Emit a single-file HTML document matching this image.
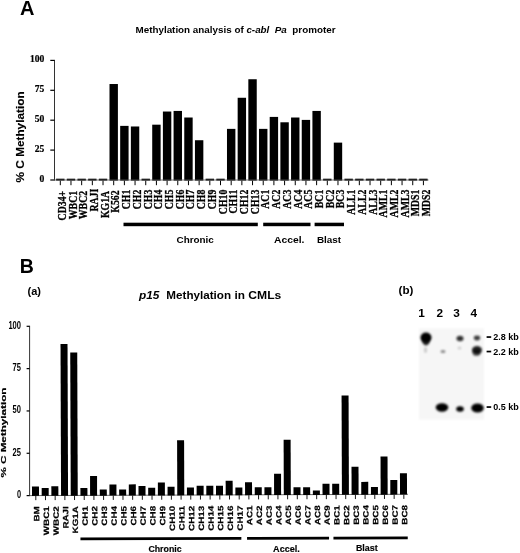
<!DOCTYPE html>
<html><head><meta charset="utf-8"><title>Methylation analysis</title>
<style>
html,body{margin:0;padding:0;background:#fff;}
body{width:520px;height:553px;overflow:hidden;}
svg{display:block;}
.sans{font-family:"Liberation Sans",Arial,Helvetica,sans-serif;font-weight:bold;fill:#000;}
.serif{font-family:"Liberation Serif","Times New Roman",serif;font-weight:bold;fill:#000;}
</style></head><body>
<svg width="520" height="553" viewBox="0 0 520 553">
<defs>
<filter id="b1" x="-50%" y="-50%" width="200%" height="200%"><feGaussianBlur stdDeviation="1.3"/></filter>
<filter id="b2" x="-50%" y="-50%" width="200%" height="200%"><feGaussianBlur stdDeviation="0.9"/></filter>
</defs>
<rect width="520" height="553" fill="#fff"/>

<text class="sans" x="20" y="14.5" font-size="20">A</text>
<text class="sans" x="135.5" y="33" font-size="9.6" textLength="200" lengthAdjust="spacingAndGlyphs" xml:space="preserve">Methylation analysis of <tspan font-style="italic">c-abl  Pa</tspan>  promoter</text>
<line x1="54.5" y1="59.9" x2="54.5" y2="180.5" stroke="#333" stroke-width="1"/>
<line x1="50.3" y1="180" x2="54.5" y2="180" stroke="#000" stroke-width="1.2"/>
<text class="serif" x="44.3" y="181.6" font-size="9.6" text-anchor="end" stroke="#000" stroke-width="0.2">0</text>
<line x1="50.3" y1="150.1" x2="54.5" y2="150.1" stroke="#000" stroke-width="1.2"/>
<text class="serif" x="44.3" y="151.7" font-size="9.6" text-anchor="end" stroke="#000" stroke-width="0.2">25</text>
<line x1="50.3" y1="120.2" x2="54.5" y2="120.2" stroke="#000" stroke-width="1.2"/>
<text class="serif" x="44.3" y="121.8" font-size="9.6" text-anchor="end" stroke="#000" stroke-width="0.2">50</text>
<line x1="50.3" y1="90.3" x2="54.5" y2="90.3" stroke="#000" stroke-width="1.2"/>
<text class="serif" x="44.3" y="91.9" font-size="9.6" text-anchor="end" stroke="#000" stroke-width="0.2">75</text>
<line x1="50.3" y1="60.4" x2="54.5" y2="60.4" stroke="#000" stroke-width="1.2"/>
<text class="serif" x="44.3" y="62" font-size="9.6" text-anchor="end" stroke="#000" stroke-width="0.2">100</text>
<text class="sans" font-size="11.5" text-anchor="middle" stroke="#000" stroke-width="0.15" transform="translate(23.8,136.9) rotate(-90)" textLength="91" lengthAdjust="spacingAndGlyphs">% C Methylation</text>
<rect x="56.10" y="178.70" width="8.40" height="1.90" fill="#000"/>
<line x1="60.30" y1="180.5" x2="60.30" y2="185.2" stroke="#000" stroke-width="1"/>
<text class="serif" font-size="11.8" text-anchor="end" stroke="#000" stroke-width="0.3" transform="translate(65.90,190.90) rotate(-90) scale(0.83,1)">CD34+</text>
<rect x="66.78" y="178.70" width="8.40" height="1.90" fill="#000"/>
<line x1="70.98" y1="180.5" x2="70.98" y2="185.2" stroke="#000" stroke-width="1"/>
<text class="serif" font-size="11.8" text-anchor="end" stroke="#000" stroke-width="0.3" transform="translate(76.61,190.90) rotate(-90) scale(0.83,1)">WBC1</text>
<rect x="77.46" y="178.70" width="8.40" height="1.90" fill="#000"/>
<line x1="81.66" y1="180.5" x2="81.66" y2="185.2" stroke="#000" stroke-width="1"/>
<text class="serif" font-size="11.8" text-anchor="end" stroke="#000" stroke-width="0.3" transform="translate(87.33,190.90) rotate(-90) scale(0.83,1)">WBC2</text>
<rect x="88.14" y="178.70" width="8.40" height="1.90" fill="#000"/>
<line x1="92.34" y1="180.5" x2="92.34" y2="185.2" stroke="#000" stroke-width="1"/>
<text class="serif" font-size="11.8" text-anchor="end" stroke="#000" stroke-width="0.3" transform="translate(98.04,188.70) rotate(-90) scale(0.83,1)">RAJI</text>
<rect x="98.82" y="178.70" width="8.40" height="1.90" fill="#000"/>
<line x1="103.02" y1="180.5" x2="103.02" y2="185.2" stroke="#000" stroke-width="1"/>
<text class="serif" font-size="11.8" text-anchor="end" stroke="#000" stroke-width="0.3" transform="translate(108.75,190.90) rotate(-90) scale(0.83,1)">KG1A</text>
<rect x="109.50" y="84.02" width="8.40" height="96.58" fill="#000"/>
<line x1="113.70" y1="180.5" x2="113.70" y2="185.2" stroke="#000" stroke-width="1"/>
<text class="serif" font-size="11.8" text-anchor="end" stroke="#000" stroke-width="0.3" transform="translate(119.47,190.40) rotate(-90) scale(0.83,1)">K562</text>
<rect x="120.18" y="125.88" width="8.40" height="54.72" fill="#000"/>
<line x1="124.38" y1="180.5" x2="124.38" y2="185.2" stroke="#000" stroke-width="1"/>
<text class="serif" font-size="11.8" text-anchor="end" stroke="#000" stroke-width="0.3" transform="translate(130.18,189.70) rotate(-90) scale(0.83,1)">CH1</text>
<rect x="130.86" y="126.48" width="8.40" height="54.12" fill="#000"/>
<line x1="135.06" y1="180.5" x2="135.06" y2="185.2" stroke="#000" stroke-width="1"/>
<text class="serif" font-size="11.8" text-anchor="end" stroke="#000" stroke-width="0.3" transform="translate(140.89,189.70) rotate(-90) scale(0.83,1)">CH2</text>
<rect x="141.54" y="178.70" width="8.40" height="1.90" fill="#000"/>
<line x1="145.74" y1="180.5" x2="145.74" y2="185.2" stroke="#000" stroke-width="1"/>
<text class="serif" font-size="11.8" text-anchor="end" stroke="#000" stroke-width="0.3" transform="translate(151.60,189.70) rotate(-90) scale(0.83,1)">CH3</text>
<rect x="152.22" y="124.68" width="8.40" height="55.92" fill="#000"/>
<line x1="156.42" y1="180.5" x2="156.42" y2="185.2" stroke="#000" stroke-width="1"/>
<text class="serif" font-size="11.8" text-anchor="end" stroke="#000" stroke-width="0.3" transform="translate(162.32,189.70) rotate(-90) scale(0.83,1)">CH4</text>
<rect x="162.90" y="111.53" width="8.40" height="69.07" fill="#000"/>
<line x1="167.10" y1="180.5" x2="167.10" y2="185.2" stroke="#000" stroke-width="1"/>
<text class="serif" font-size="11.8" text-anchor="end" stroke="#000" stroke-width="0.3" transform="translate(173.03,189.70) rotate(-90) scale(0.83,1)">CH5</text>
<rect x="173.58" y="110.93" width="8.40" height="69.67" fill="#000"/>
<line x1="177.78" y1="180.5" x2="177.78" y2="185.2" stroke="#000" stroke-width="1"/>
<text class="serif" font-size="11.8" text-anchor="end" stroke="#000" stroke-width="0.3" transform="translate(183.74,189.70) rotate(-90) scale(0.83,1)">CH6</text>
<rect x="184.26" y="117.51" width="8.40" height="63.09" fill="#000"/>
<line x1="188.46" y1="180.5" x2="188.46" y2="185.2" stroke="#000" stroke-width="1"/>
<text class="serif" font-size="11.8" text-anchor="end" stroke="#000" stroke-width="0.3" transform="translate(194.46,189.70) rotate(-90) scale(0.83,1)">CH7</text>
<rect x="194.94" y="140.23" width="8.40" height="40.37" fill="#000"/>
<line x1="199.14" y1="180.5" x2="199.14" y2="185.2" stroke="#000" stroke-width="1"/>
<text class="serif" font-size="11.8" text-anchor="end" stroke="#000" stroke-width="0.3" transform="translate(205.17,189.70) rotate(-90) scale(0.83,1)">CH8</text>
<rect x="205.62" y="178.70" width="8.40" height="1.90" fill="#000"/>
<line x1="209.82" y1="180.5" x2="209.82" y2="185.2" stroke="#000" stroke-width="1"/>
<text class="serif" font-size="11.8" text-anchor="end" stroke="#000" stroke-width="0.3" transform="translate(215.88,189.70) rotate(-90) scale(0.83,1)">CH9</text>
<rect x="216.30" y="178.70" width="8.40" height="1.90" fill="#000"/>
<line x1="220.50" y1="180.5" x2="220.50" y2="185.2" stroke="#000" stroke-width="1"/>
<text class="serif" font-size="11.8" text-anchor="end" stroke="#000" stroke-width="0.3" transform="translate(226.59,189.70) rotate(-90) scale(0.83,1)">CH10</text>
<rect x="226.98" y="128.87" width="8.40" height="51.73" fill="#000"/>
<line x1="231.18" y1="180.5" x2="231.18" y2="185.2" stroke="#000" stroke-width="1"/>
<text class="serif" font-size="11.8" text-anchor="end" stroke="#000" stroke-width="0.3" transform="translate(237.31,189.70) rotate(-90) scale(0.83,1)">CH11</text>
<rect x="237.66" y="97.77" width="8.40" height="82.83" fill="#000"/>
<line x1="241.86" y1="180.5" x2="241.86" y2="185.2" stroke="#000" stroke-width="1"/>
<text class="serif" font-size="11.8" text-anchor="end" stroke="#000" stroke-width="0.3" transform="translate(248.02,189.70) rotate(-90) scale(0.83,1)">CH12</text>
<rect x="248.34" y="79.24" width="8.40" height="101.36" fill="#000"/>
<line x1="252.54" y1="180.5" x2="252.54" y2="185.2" stroke="#000" stroke-width="1"/>
<text class="serif" font-size="11.8" text-anchor="end" stroke="#000" stroke-width="0.3" transform="translate(258.73,189.70) rotate(-90) scale(0.83,1)">CH13</text>
<rect x="259.02" y="128.87" width="8.40" height="51.73" fill="#000"/>
<line x1="263.22" y1="180.5" x2="263.22" y2="185.2" stroke="#000" stroke-width="1"/>
<text class="serif" font-size="11.8" text-anchor="end" stroke="#000" stroke-width="0.3" transform="translate(269.45,189.70) rotate(-90) scale(0.83,1)">AC1</text>
<rect x="269.70" y="116.91" width="8.40" height="63.69" fill="#000"/>
<line x1="273.90" y1="180.5" x2="273.90" y2="185.2" stroke="#000" stroke-width="1"/>
<text class="serif" font-size="11.8" text-anchor="end" stroke="#000" stroke-width="0.3" transform="translate(280.16,189.70) rotate(-90) scale(0.83,1)">AC2</text>
<rect x="280.38" y="122.29" width="8.40" height="58.31" fill="#000"/>
<line x1="284.58" y1="180.5" x2="284.58" y2="185.2" stroke="#000" stroke-width="1"/>
<text class="serif" font-size="11.8" text-anchor="end" stroke="#000" stroke-width="0.3" transform="translate(290.87,189.70) rotate(-90) scale(0.83,1)">AC3</text>
<rect x="291.06" y="117.51" width="8.40" height="63.09" fill="#000"/>
<line x1="295.26" y1="180.5" x2="295.26" y2="185.2" stroke="#000" stroke-width="1"/>
<text class="serif" font-size="11.8" text-anchor="end" stroke="#000" stroke-width="0.3" transform="translate(301.59,189.70) rotate(-90) scale(0.83,1)">AC4</text>
<rect x="301.74" y="119.90" width="8.40" height="60.70" fill="#000"/>
<line x1="305.94" y1="180.5" x2="305.94" y2="185.2" stroke="#000" stroke-width="1"/>
<text class="serif" font-size="11.8" text-anchor="end" stroke="#000" stroke-width="0.3" transform="translate(312.30,189.70) rotate(-90) scale(0.83,1)">AC5</text>
<rect x="312.42" y="110.93" width="8.40" height="69.67" fill="#000"/>
<line x1="316.62" y1="180.5" x2="316.62" y2="185.2" stroke="#000" stroke-width="1"/>
<text class="serif" font-size="11.8" text-anchor="end" stroke="#000" stroke-width="0.3" transform="translate(323.01,189.70) rotate(-90) scale(0.83,1)">BC1</text>
<rect x="323.10" y="178.70" width="8.40" height="1.90" fill="#000"/>
<line x1="327.30" y1="180.5" x2="327.30" y2="185.2" stroke="#000" stroke-width="1"/>
<text class="serif" font-size="11.8" text-anchor="end" stroke="#000" stroke-width="0.3" transform="translate(333.73,189.70) rotate(-90) scale(0.83,1)">BC2</text>
<rect x="333.78" y="142.62" width="8.40" height="37.98" fill="#000"/>
<line x1="337.98" y1="180.5" x2="337.98" y2="185.2" stroke="#000" stroke-width="1"/>
<text class="serif" font-size="11.8" text-anchor="end" stroke="#000" stroke-width="0.3" transform="translate(344.44,189.70) rotate(-90) scale(0.83,1)">BC3</text>
<rect x="344.46" y="178.70" width="8.40" height="1.90" fill="#000"/>
<line x1="348.66" y1="180.5" x2="348.66" y2="185.2" stroke="#000" stroke-width="1"/>
<text class="serif" font-size="11.8" text-anchor="end" stroke="#000" stroke-width="0.3" transform="translate(355.15,189.70) rotate(-90) scale(0.83,1)">ALL1</text>
<rect x="355.14" y="178.70" width="8.40" height="1.90" fill="#000"/>
<line x1="359.34" y1="180.5" x2="359.34" y2="185.2" stroke="#000" stroke-width="1"/>
<text class="serif" font-size="11.8" text-anchor="end" stroke="#000" stroke-width="0.3" transform="translate(365.86,189.70) rotate(-90) scale(0.83,1)">ALL2</text>
<rect x="365.82" y="178.70" width="8.40" height="1.90" fill="#000"/>
<line x1="370.02" y1="180.5" x2="370.02" y2="185.2" stroke="#000" stroke-width="1"/>
<text class="serif" font-size="11.8" text-anchor="end" stroke="#000" stroke-width="0.3" transform="translate(376.58,189.70) rotate(-90) scale(0.83,1)">ALL3</text>
<rect x="376.50" y="178.70" width="8.40" height="1.90" fill="#000"/>
<line x1="380.70" y1="180.5" x2="380.70" y2="185.2" stroke="#000" stroke-width="1"/>
<text class="serif" font-size="11.8" text-anchor="end" stroke="#000" stroke-width="0.3" transform="translate(387.29,189.70) rotate(-90) scale(0.83,1)">AML1</text>
<rect x="387.18" y="178.70" width="8.40" height="1.90" fill="#000"/>
<line x1="391.38" y1="180.5" x2="391.38" y2="185.2" stroke="#000" stroke-width="1"/>
<text class="serif" font-size="11.8" text-anchor="end" stroke="#000" stroke-width="0.3" transform="translate(398.00,189.70) rotate(-90) scale(0.83,1)">AML2</text>
<rect x="397.86" y="178.70" width="8.40" height="1.90" fill="#000"/>
<line x1="402.06" y1="180.5" x2="402.06" y2="185.2" stroke="#000" stroke-width="1"/>
<text class="serif" font-size="11.8" text-anchor="end" stroke="#000" stroke-width="0.3" transform="translate(408.72,189.70) rotate(-90) scale(0.83,1)">AML3</text>
<rect x="408.54" y="178.70" width="8.40" height="1.90" fill="#000"/>
<line x1="412.74" y1="180.5" x2="412.74" y2="185.2" stroke="#000" stroke-width="1"/>
<text class="serif" font-size="11.8" text-anchor="end" stroke="#000" stroke-width="0.3" transform="translate(419.43,189.70) rotate(-90) scale(0.83,1)">MDS1</text>
<rect x="419.22" y="178.70" width="8.40" height="1.90" fill="#000"/>
<line x1="423.42" y1="180.5" x2="423.42" y2="185.2" stroke="#000" stroke-width="1"/>
<text class="serif" font-size="11.8" text-anchor="end" stroke="#000" stroke-width="0.3" transform="translate(430.14,189.70) rotate(-90) scale(0.83,1)">MDS2</text>
<line x1="54" y1="180" x2="428.5" y2="180" stroke="#555" stroke-width="0.8"/>
<rect x="123.5" y="222.7" width="134.3" height="3.5" fill="#000"/>
<rect x="263.2" y="222.7" width="47.3" height="3.5" fill="#000"/>
<rect x="314.6" y="222.7" width="29.4" height="3.5" fill="#000"/>
<text class="sans" font-size="9.9" text-anchor="middle" x="195.2" y="243">Chronic</text>
<text class="sans" font-size="9.9" x="274" y="242.5" textLength="30.4" lengthAdjust="spacingAndGlyphs">Accel.</text>
<text class="sans" font-size="9.9" text-anchor="middle" x="329" y="242.5">Blast</text>
<text class="sans" x="19.8" y="272.8" font-size="19.5">B</text>
<text class="sans" x="27.5" y="295" font-size="11">(a)</text>
<text class="sans" y="298.6" font-size="11.8"><tspan x="139" font-style="italic">p15</tspan> <tspan x="166.3" textLength="64.8" lengthAdjust="spacingAndGlyphs">Methylation</tspan> <tspan x="234.4">in</tspan> <tspan x="248.3" textLength="33" lengthAdjust="spacingAndGlyphs">CMLs</tspan></text>
<line x1="29.6" y1="325.8" x2="29.6" y2="496.1" stroke="#333" stroke-width="1"/>
<line x1="26.6" y1="495.6" x2="29.6" y2="495.6" stroke="#000" stroke-width="1.2"/>
<text class="sans" x="21" y="498" font-size="10.3" text-anchor="end" textLength="4.1" lengthAdjust="spacingAndGlyphs">0</text>
<line x1="26.6" y1="453.275" x2="29.6" y2="453.275" stroke="#000" stroke-width="1.2"/>
<text class="sans" x="21" y="455.675" font-size="10.3" text-anchor="end" textLength="8.4" lengthAdjust="spacingAndGlyphs">25</text>
<line x1="26.6" y1="410.95" x2="29.6" y2="410.95" stroke="#000" stroke-width="1.2"/>
<text class="sans" x="21" y="413.35" font-size="10.3" text-anchor="end" textLength="8.4" lengthAdjust="spacingAndGlyphs">50</text>
<line x1="26.6" y1="368.625" x2="29.6" y2="368.625" stroke="#000" stroke-width="1.2"/>
<text class="sans" x="21" y="371.025" font-size="10.3" text-anchor="end" textLength="8.4" lengthAdjust="spacingAndGlyphs">75</text>
<line x1="26.6" y1="326.3" x2="29.6" y2="326.3" stroke="#000" stroke-width="1.2"/>
<text class="sans" x="21" y="328.7" font-size="10.3" text-anchor="end" textLength="12.6" lengthAdjust="spacingAndGlyphs">100</text>
<text class="sans" font-size="8" text-anchor="middle" stroke="#000" stroke-width="0.2" transform="translate(5.7,432.6) rotate(-90)" textLength="90" lengthAdjust="spacingAndGlyphs">% C Methylation</text>
<g transform="rotate(-0.2 30 495.6)">
<line x1="29.6" y1="495.6" x2="408" y2="495.6" stroke="#444" stroke-width="0.8"/>
<rect x="32.00" y="486.44" width="7.00" height="9.46" fill="#000"/>
<line x1="35.80" y1="495.9" x2="35.80" y2="500.2" stroke="#000" stroke-width="0.9"/>
<text class="sans" font-size="7.7" text-anchor="end" stroke="#000" stroke-width="0.2" transform="translate(39.20,506.3) rotate(-90) scale(1.28,1)">BM</text>
<rect x="41.69" y="488.13" width="7.00" height="7.77" fill="#000"/>
<line x1="45.48" y1="495.9" x2="45.48" y2="500.2" stroke="#000" stroke-width="0.9"/>
<text class="sans" font-size="7.7" text-anchor="end" stroke="#000" stroke-width="0.2" transform="translate(48.89,506.3) rotate(-90) scale(1.28,1)">WBC1</text>
<rect x="51.37" y="486.44" width="7.00" height="9.46" fill="#000"/>
<line x1="55.17" y1="495.9" x2="55.17" y2="500.2" stroke="#000" stroke-width="0.9"/>
<text class="sans" font-size="7.7" text-anchor="end" stroke="#000" stroke-width="0.2" transform="translate(58.57,506.3) rotate(-90) scale(1.28,1)">WBC2</text>
<rect x="61.05" y="344.22" width="7.00" height="151.68" fill="#000"/>
<line x1="64.86" y1="495.9" x2="64.86" y2="500.2" stroke="#000" stroke-width="0.9"/>
<text class="sans" font-size="7.7" text-anchor="end" stroke="#000" stroke-width="0.2" transform="translate(68.26,506.3) rotate(-90) scale(1.28,1)">RAJI</text>
<rect x="70.74" y="352.69" width="7.00" height="143.21" fill="#000"/>
<line x1="74.54" y1="495.9" x2="74.54" y2="500.2" stroke="#000" stroke-width="0.9"/>
<text class="sans" font-size="7.7" text-anchor="end" stroke="#000" stroke-width="0.2" transform="translate(77.94,506.3) rotate(-90) scale(1.28,1)">KG1A</text>
<rect x="80.43" y="488.13" width="7.00" height="7.77" fill="#000"/>
<line x1="84.23" y1="495.9" x2="84.23" y2="500.2" stroke="#000" stroke-width="0.9"/>
<text class="sans" font-size="7.7" text-anchor="end" stroke="#000" stroke-width="0.2" transform="translate(87.63,506.3) rotate(-90) scale(1.28,1)">CH1</text>
<rect x="90.11" y="476.28" width="7.00" height="19.62" fill="#000"/>
<line x1="93.91" y1="495.9" x2="93.91" y2="500.2" stroke="#000" stroke-width="0.9"/>
<text class="sans" font-size="7.7" text-anchor="end" stroke="#000" stroke-width="0.2" transform="translate(97.31,506.3) rotate(-90) scale(1.28,1)">CH2</text>
<rect x="99.80" y="489.82" width="7.00" height="6.08" fill="#000"/>
<line x1="103.59" y1="495.9" x2="103.59" y2="500.2" stroke="#000" stroke-width="0.9"/>
<text class="sans" font-size="7.7" text-anchor="end" stroke="#000" stroke-width="0.2" transform="translate(107.00,506.3) rotate(-90) scale(1.28,1)">CH3</text>
<rect x="109.48" y="484.74" width="7.00" height="11.16" fill="#000"/>
<line x1="113.28" y1="495.9" x2="113.28" y2="500.2" stroke="#000" stroke-width="0.9"/>
<text class="sans" font-size="7.7" text-anchor="end" stroke="#000" stroke-width="0.2" transform="translate(116.68,506.3) rotate(-90) scale(1.28,1)">CH4</text>
<rect x="119.17" y="489.82" width="7.00" height="6.08" fill="#000"/>
<line x1="122.97" y1="495.9" x2="122.97" y2="500.2" stroke="#000" stroke-width="0.9"/>
<text class="sans" font-size="7.7" text-anchor="end" stroke="#000" stroke-width="0.2" transform="translate(126.37,506.3) rotate(-90) scale(1.28,1)">CH5</text>
<rect x="128.85" y="484.74" width="7.00" height="11.16" fill="#000"/>
<line x1="132.65" y1="495.9" x2="132.65" y2="500.2" stroke="#000" stroke-width="0.9"/>
<text class="sans" font-size="7.7" text-anchor="end" stroke="#000" stroke-width="0.2" transform="translate(136.05,506.3) rotate(-90) scale(1.28,1)">CH6</text>
<rect x="138.54" y="486.44" width="7.00" height="9.46" fill="#000"/>
<line x1="142.34" y1="495.9" x2="142.34" y2="500.2" stroke="#000" stroke-width="0.9"/>
<text class="sans" font-size="7.7" text-anchor="end" stroke="#000" stroke-width="0.2" transform="translate(145.74,506.3) rotate(-90) scale(1.28,1)">CH7</text>
<rect x="148.22" y="488.13" width="7.00" height="7.77" fill="#000"/>
<line x1="152.02" y1="495.9" x2="152.02" y2="500.2" stroke="#000" stroke-width="0.9"/>
<text class="sans" font-size="7.7" text-anchor="end" stroke="#000" stroke-width="0.2" transform="translate(155.42,506.3) rotate(-90) scale(1.28,1)">CH8</text>
<rect x="157.91" y="483.05" width="7.00" height="12.85" fill="#000"/>
<line x1="161.71" y1="495.9" x2="161.71" y2="500.2" stroke="#000" stroke-width="0.9"/>
<text class="sans" font-size="7.7" text-anchor="end" stroke="#000" stroke-width="0.2" transform="translate(165.10,506.3) rotate(-90) scale(1.28,1)">CH9</text>
<rect x="167.59" y="487.28" width="7.00" height="8.62" fill="#000"/>
<line x1="171.39" y1="495.9" x2="171.39" y2="500.2" stroke="#000" stroke-width="0.9"/>
<text class="sans" font-size="7.7" text-anchor="end" stroke="#000" stroke-width="0.2" transform="translate(174.79,506.3) rotate(-90) scale(1.28,1)">CH10</text>
<rect x="177.28" y="440.72" width="7.00" height="55.18" fill="#000"/>
<line x1="181.08" y1="495.9" x2="181.08" y2="500.2" stroke="#000" stroke-width="0.9"/>
<text class="sans" font-size="7.7" text-anchor="end" stroke="#000" stroke-width="0.2" transform="translate(184.47,506.3) rotate(-90) scale(1.28,1)">CH11</text>
<rect x="186.96" y="488.13" width="7.00" height="7.77" fill="#000"/>
<line x1="190.76" y1="495.9" x2="190.76" y2="500.2" stroke="#000" stroke-width="0.9"/>
<text class="sans" font-size="7.7" text-anchor="end" stroke="#000" stroke-width="0.2" transform="translate(194.16,506.3) rotate(-90) scale(1.28,1)">CH12</text>
<rect x="196.65" y="486.44" width="7.00" height="9.46" fill="#000"/>
<line x1="200.45" y1="495.9" x2="200.45" y2="500.2" stroke="#000" stroke-width="0.9"/>
<text class="sans" font-size="7.7" text-anchor="end" stroke="#000" stroke-width="0.2" transform="translate(203.84,506.3) rotate(-90) scale(1.28,1)">CH13</text>
<rect x="206.33" y="486.44" width="7.00" height="9.46" fill="#000"/>
<line x1="210.13" y1="495.9" x2="210.13" y2="500.2" stroke="#000" stroke-width="0.9"/>
<text class="sans" font-size="7.7" text-anchor="end" stroke="#000" stroke-width="0.2" transform="translate(213.53,506.3) rotate(-90) scale(1.28,1)">CH14</text>
<rect x="216.02" y="486.44" width="7.00" height="9.46" fill="#000"/>
<line x1="219.82" y1="495.9" x2="219.82" y2="500.2" stroke="#000" stroke-width="0.9"/>
<text class="sans" font-size="7.7" text-anchor="end" stroke="#000" stroke-width="0.2" transform="translate(223.22,506.3) rotate(-90) scale(1.28,1)">CH15</text>
<rect x="225.70" y="481.36" width="7.00" height="14.54" fill="#000"/>
<line x1="229.50" y1="495.9" x2="229.50" y2="500.2" stroke="#000" stroke-width="0.9"/>
<text class="sans" font-size="7.7" text-anchor="end" stroke="#000" stroke-width="0.2" transform="translate(232.90,506.3) rotate(-90) scale(1.28,1)">CH16</text>
<rect x="235.39" y="488.13" width="7.00" height="7.77" fill="#000"/>
<line x1="239.19" y1="495.9" x2="239.19" y2="500.2" stroke="#000" stroke-width="0.9"/>
<text class="sans" font-size="7.7" text-anchor="end" stroke="#000" stroke-width="0.2" transform="translate(242.59,506.3) rotate(-90) scale(1.28,1)">CH17</text>
<rect x="245.07" y="483.05" width="7.00" height="12.85" fill="#000"/>
<line x1="248.87" y1="495.9" x2="248.87" y2="500.2" stroke="#000" stroke-width="0.9"/>
<text class="sans" font-size="7.7" text-anchor="end" stroke="#000" stroke-width="0.2" transform="translate(252.27,506.3) rotate(-90) scale(1.28,1)">AC1</text>
<rect x="254.76" y="488.13" width="7.00" height="7.77" fill="#000"/>
<line x1="258.56" y1="495.9" x2="258.56" y2="500.2" stroke="#000" stroke-width="0.9"/>
<text class="sans" font-size="7.7" text-anchor="end" stroke="#000" stroke-width="0.2" transform="translate(261.95,506.3) rotate(-90) scale(1.28,1)">AC2</text>
<rect x="264.44" y="488.13" width="7.00" height="7.77" fill="#000"/>
<line x1="268.24" y1="495.9" x2="268.24" y2="500.2" stroke="#000" stroke-width="0.9"/>
<text class="sans" font-size="7.7" text-anchor="end" stroke="#000" stroke-width="0.2" transform="translate(271.64,506.3) rotate(-90) scale(1.28,1)">AC3</text>
<rect x="274.12" y="474.58" width="7.00" height="21.32" fill="#000"/>
<line x1="277.93" y1="495.9" x2="277.93" y2="500.2" stroke="#000" stroke-width="0.9"/>
<text class="sans" font-size="7.7" text-anchor="end" stroke="#000" stroke-width="0.2" transform="translate(281.32,506.3) rotate(-90) scale(1.28,1)">AC4</text>
<rect x="283.81" y="440.72" width="7.00" height="55.18" fill="#000"/>
<line x1="287.61" y1="495.9" x2="287.61" y2="500.2" stroke="#000" stroke-width="0.9"/>
<text class="sans" font-size="7.7" text-anchor="end" stroke="#000" stroke-width="0.2" transform="translate(291.01,506.3) rotate(-90) scale(1.28,1)">AC5</text>
<rect x="293.50" y="488.13" width="7.00" height="7.77" fill="#000"/>
<line x1="297.30" y1="495.9" x2="297.30" y2="500.2" stroke="#000" stroke-width="0.9"/>
<text class="sans" font-size="7.7" text-anchor="end" stroke="#000" stroke-width="0.2" transform="translate(300.69,506.3) rotate(-90) scale(1.28,1)">AC6</text>
<rect x="303.18" y="488.13" width="7.00" height="7.77" fill="#000"/>
<line x1="306.98" y1="495.9" x2="306.98" y2="500.2" stroke="#000" stroke-width="0.9"/>
<text class="sans" font-size="7.7" text-anchor="end" stroke="#000" stroke-width="0.2" transform="translate(310.38,506.3) rotate(-90) scale(1.28,1)">AC7</text>
<rect x="312.87" y="491.51" width="7.00" height="4.39" fill="#000"/>
<line x1="316.67" y1="495.9" x2="316.67" y2="500.2" stroke="#000" stroke-width="0.9"/>
<text class="sans" font-size="7.7" text-anchor="end" stroke="#000" stroke-width="0.2" transform="translate(320.06,506.3) rotate(-90) scale(1.28,1)">AC8</text>
<rect x="322.55" y="484.74" width="7.00" height="11.16" fill="#000"/>
<line x1="326.35" y1="495.9" x2="326.35" y2="500.2" stroke="#000" stroke-width="0.9"/>
<text class="sans" font-size="7.7" text-anchor="end" stroke="#000" stroke-width="0.2" transform="translate(329.75,506.3) rotate(-90) scale(1.28,1)">AC9</text>
<rect x="332.24" y="484.74" width="7.00" height="11.16" fill="#000"/>
<line x1="336.04" y1="495.9" x2="336.04" y2="500.2" stroke="#000" stroke-width="0.9"/>
<text class="sans" font-size="7.7" text-anchor="end" stroke="#000" stroke-width="0.2" transform="translate(339.44,506.3) rotate(-90) scale(1.28,1)">BC1</text>
<rect x="341.92" y="396.71" width="7.00" height="99.19" fill="#000"/>
<line x1="345.72" y1="495.9" x2="345.72" y2="500.2" stroke="#000" stroke-width="0.9"/>
<text class="sans" font-size="7.7" text-anchor="end" stroke="#000" stroke-width="0.2" transform="translate(349.12,506.3) rotate(-90) scale(1.28,1)">BC2</text>
<rect x="351.61" y="467.81" width="7.00" height="28.09" fill="#000"/>
<line x1="355.41" y1="495.9" x2="355.41" y2="500.2" stroke="#000" stroke-width="0.9"/>
<text class="sans" font-size="7.7" text-anchor="end" stroke="#000" stroke-width="0.2" transform="translate(358.81,506.3) rotate(-90) scale(1.28,1)">BC3</text>
<rect x="361.29" y="483.05" width="7.00" height="12.85" fill="#000"/>
<line x1="365.09" y1="495.9" x2="365.09" y2="500.2" stroke="#000" stroke-width="0.9"/>
<text class="sans" font-size="7.7" text-anchor="end" stroke="#000" stroke-width="0.2" transform="translate(368.49,506.3) rotate(-90) scale(1.28,1)">BC4</text>
<rect x="370.98" y="488.13" width="7.00" height="7.77" fill="#000"/>
<line x1="374.78" y1="495.9" x2="374.78" y2="500.2" stroke="#000" stroke-width="0.9"/>
<text class="sans" font-size="7.7" text-anchor="end" stroke="#000" stroke-width="0.2" transform="translate(378.18,506.3) rotate(-90) scale(1.28,1)">BC5</text>
<rect x="380.66" y="457.65" width="7.00" height="38.25" fill="#000"/>
<line x1="384.46" y1="495.9" x2="384.46" y2="500.2" stroke="#000" stroke-width="0.9"/>
<text class="sans" font-size="7.7" text-anchor="end" stroke="#000" stroke-width="0.2" transform="translate(387.86,506.3) rotate(-90) scale(1.28,1)">BC6</text>
<rect x="390.35" y="481.36" width="7.00" height="14.54" fill="#000"/>
<line x1="394.15" y1="495.9" x2="394.15" y2="500.2" stroke="#000" stroke-width="0.9"/>
<text class="sans" font-size="7.7" text-anchor="end" stroke="#000" stroke-width="0.2" transform="translate(397.55,506.3) rotate(-90) scale(1.28,1)">BC7</text>
<rect x="400.03" y="474.58" width="7.00" height="21.32" fill="#000"/>
<line x1="403.83" y1="495.9" x2="403.83" y2="500.2" stroke="#000" stroke-width="0.9"/>
<text class="sans" font-size="7.7" text-anchor="end" stroke="#000" stroke-width="0.2" transform="translate(407.23,506.3) rotate(-90) scale(1.28,1)">BC8</text>
<rect x="80.3" y="537.8" width="160.9" height="2.7" fill="#000"/>
<rect x="246.9" y="537.8" width="82" height="2.7" fill="#000"/>
<rect x="333.3" y="537.8" width="74.3" height="2.7" fill="#000"/>
</g>
<text class="sans" font-size="8.8" stroke="#000" stroke-width="0.15" text-anchor="middle" x="165" y="551.6">Chronic</text>
<text class="sans" font-size="9.1" stroke="#000" stroke-width="0.15" text-anchor="middle" x="286.5" y="551.6">Accel.</text>
<text class="sans" font-size="8.9" stroke="#000" stroke-width="0.15" text-anchor="middle" x="366.8" y="551.4">Blast</text>
<text class="sans" x="398.6" y="294" font-size="11.6">(b)</text>
<text class="sans" x="421.6" y="316.5" font-size="11.8" text-anchor="middle">1</text>
<text class="sans" x="439.7" y="316.5" font-size="11.8" text-anchor="middle">2</text>
<text class="sans" x="456.5" y="316.5" font-size="11.8" text-anchor="middle">3</text>
<text class="sans" x="473.8" y="316.5" font-size="11.8" text-anchor="middle">4</text>
<rect x="419" y="328.5" width="65" height="91" fill="#f6f6f6" filter="url(#b2)"/>
<ellipse cx="426" cy="337.5" rx="5.5" ry="5" fill="#000" opacity="1" filter="url(#b1)"/>
<ellipse cx="426" cy="340.5" rx="3.8" ry="5" fill="#000" opacity="0.85" filter="url(#b1)"/>
<ellipse cx="425.5" cy="350" rx="1.5" ry="3" fill="#000" opacity="0.18" filter="url(#b1)"/>
<ellipse cx="460" cy="338.5" rx="3.5" ry="2.8" fill="#000" opacity="0.8" filter="url(#b1)"/>
<ellipse cx="459.5" cy="348" rx="2" ry="1.5" fill="#000" opacity="0.15" filter="url(#b1)"/>
<ellipse cx="477" cy="338" rx="3.2" ry="2.4" fill="#000" opacity="0.75" filter="url(#b1)"/>
<ellipse cx="443" cy="351.5" rx="2.5" ry="1.5" fill="#000" opacity="0.45" filter="url(#b1)"/>
<ellipse cx="477" cy="350" rx="5" ry="4" fill="#000" opacity="0.85" filter="url(#b1)"/>
<ellipse cx="476.5" cy="352.5" rx="4" ry="3.5" fill="#000" opacity="0.6" filter="url(#b1)"/>
<ellipse cx="442" cy="407.5" rx="6.3" ry="4.2" fill="#000" opacity="1" filter="url(#b1)"/>
<ellipse cx="460" cy="409" rx="3.8" ry="2.8" fill="#000" opacity="1" filter="url(#b1)"/>
<ellipse cx="477.5" cy="408" rx="6.3" ry="4.6" fill="#000" opacity="1" filter="url(#b1)"/>
<rect x="486.6" y="336.2" width="4.6" height="1.7" fill="#000"/>
<text class="sans" x="493.3" y="340.1" font-size="9">2.8 kb</text>
<rect x="486.6" y="350.7" width="4.6" height="1.7" fill="#000"/>
<text class="sans" x="493.3" y="354.6" font-size="9">2.2 kb</text>
<rect x="486.6" y="406.2" width="4.6" height="1.7" fill="#000"/>
<text class="sans" x="493.3" y="410.1" font-size="9">0.5 kb</text>
</svg></body></html>
